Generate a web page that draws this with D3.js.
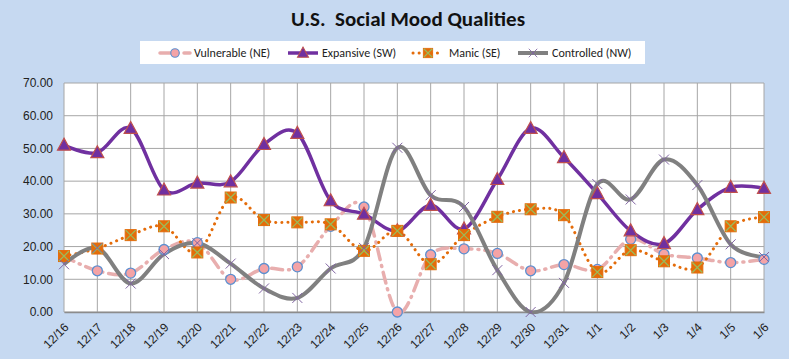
<!DOCTYPE html>
<html>
<head>
<meta charset="utf-8">
<script src="https://cdn.jsdelivr.net/npm/d3@7"></script>
<style>
  html, body { margin: 0; padding: 0; background: #c6d9f1; }
  svg { display: block; font-family: Carlito, "Liberation Sans", Arial, sans-serif; }
  .tick text { fill: #222; font-size: 12px; }
</style>
</head>
<body>
<div id="chart"></div>
<script>
// Social mood data
var dates = ['12/16','12/17','12/18','12/19','12/20','12/21','12/22','12/23','12/24','12/25','12/26',
  '12/27','12/28','12/29','12/30','12/31','1/1','1/2','1/3','1/4','1/5','1/6'];
var vulnerable = [17.0,12.6,11.9,19.1,21.2,10.0,13.3,13.8,26.2,32.1,0.0,17.5,19.3,17.9,12.6,14.5,13.0,22.2,17.7,16.5,15.1,16.1];
var expansive  = [51.0,48.7,56.1,37.3,39.4,39.8,51.2,54.6,34.0,29.9,24.8,32.6,25.4,40.5,56.1,47.2,36.2,24.8,20.9,31.3,38.1,37.8];
var manic      = [17.1,19.4,23.5,26.2,18.2,35.0,28.1,27.4,26.8,18.7,24.8,14.6,23.5,29.1,31.4,29.6,12.2,18.9,15.5,13.6,26.2,29.0];
var controlled = [14.6,19.6,8.7,17.7,21.1,14.8,7.2,4.3,13.3,19.6,50.2,35.7,32.1,12.8,0.0,8.9,39.1,34.4,46.6,38.8,20.7,16.8];
var yTicks = [0,10,20,30,40,50,60,70];

var W = 789, H = 359;
var margin = {top: 83, right: 25, bottom: 47, left: 64};
var w = W - margin.left - margin.right;
var h = H - margin.top - margin.bottom;

var svg = d3.select('#chart').append('svg').attr('width', W).attr('height', H);

svg.append('text')
  .attr('x', 408).attr('y', 26)
  .attr('text-anchor', 'middle')
  .attr('font-weight', 'bold').attr('font-size', 21)
  .attr('fill', '#111')
  .style('white-space', 'pre')
  .text('U.S.  Social Mood Qualities');

var g = svg.append('g').attr('transform', 'translate(' + margin.left + ',' + margin.top + ')');

var x = d3.scalePoint().domain(dates).range([0, w]);
var y = d3.scaleLinear().domain([0, 70]).range([h, 0]);

g.append('rect').attr('width', w).attr('height', h).attr('fill', '#fff');

// gridlines
g.append('g').selectAll('line.hg').data(yTicks).join('line')
  .attr('x1', 0).attr('x2', w)
  .attr('y1', function(d) { return y(d); }).attr('y2', function(d) { return y(d); })
  .attr('stroke', '#a6a6a6').attr('stroke-width', 1);
g.append('g').selectAll('line.vg').data(dates).join('line')
  .attr('x1', function(d) { return x(d); }).attr('x2', function(d) { return x(d); })
  .attr('y1', 0).attr('y2', h)
  .attr('stroke', '#a6a6a6').attr('stroke-width', 1);

// axes
var yAxis = g.append('g')
  .call(d3.axisLeft(y).tickValues(yTicks).tickFormat(d3.format('.2f')).tickSize(0).tickPadding(11));
yAxis.select('.domain').remove();

var xAxis = g.append('g').attr('transform', 'translate(0,' + h + ')')
  .call(d3.axisBottom(x).tickSize(0).tickPadding(0));
xAxis.select('.domain').attr('stroke', '#8c8c8c').attr('stroke-width', 1.5);
xAxis.selectAll('text')
  .attr('text-anchor', 'end')
  .attr('dy', 0)
  .attr('transform', 'translate(5,16) rotate(-45)');

var clip = g.append('clipPath').attr('id', 'clip')
  .append('rect').attr('x', -10).attr('y', -10).attr('width', w + 20).attr('height', h + 16);

var line = d3.line().curve(d3.curveCardinal.tension(0))
  .x(function(d, i) { return x(dates[i]); })
  .y(function(d) { return y(d); });

var plot = g.append('g').attr('clip-path', 'url(#clip)');

// marker painters
function circleMarker(sel) {
  sel.append('circle').attr('r', 5).attr('fill', '#f4a3a6').attr('stroke', '#5b8fd0').attr('stroke-width', 1.3);
}
function triMarker(sel) {
  sel.append('path').attr('d', 'M0,-7L6.5,5L-6.5,5Z')
    .attr('fill', '#7030a0').attr('stroke', '#c0504d').attr('stroke-width', 1.2);
}
function squareMarker(sel) {
  sel.append('rect').attr('x', -5.5).attr('y', -5.5).attr('width', 11).attr('height', 11)
    .attr('fill', '#e46c0a').attr('stroke', '#e46c0a');
  sel.append('path').attr('d', 'M-5,-5L5,5M5,-5L-5,5').attr('stroke', '#9bbb59').attr('stroke-width', 1.3);
}
function xMarker(sel) {
  sel.append('path').attr('d', 'M-5,-5L5,5M5,-5L-5,5').attr('stroke', '#8064a2').attr('stroke-width', 1);
}

var series = [
  {name: 'Vulnerable (NE)', values: vulnerable, color: '#e8aeae', width: 3.5, dash: '11,6,1,6', cap: 'round', marker: circleMarker},
  {name: 'Expansive (SW)', values: expansive, color: '#7030a0', width: 3.5, dash: null, cap: 'butt', marker: triMarker},
  {name: 'Manic (SE)', values: manic, color: '#e46c0a', width: 3, dash: '0.1,6', cap: 'round', marker: squareMarker},
  {name: 'Controlled (NW)', values: controlled, color: '#808080', width: 4, dash: null, cap: 'butt', marker: xMarker}
];

series.forEach(function(s) {
  plot.append('path').datum(s.values)
    .attr('d', line)
    .attr('fill', 'none')
    .attr('stroke', s.color)
    .attr('stroke-width', s.width)
    .attr('stroke-linecap', s.cap)
    .attr('stroke-dasharray', s.dash);
  g.append('g').selectAll('g').data(s.values).join('g')
    .attr('transform', function(d, i) { return 'translate(' + x(dates[i]) + ',' + y(d) + ')'; })
    .each(function() { s.marker(d3.select(this)); });
});

// legend
var legend = svg.append('g');
legend.append('rect').attr('x', 140).attr('y', 41).attr('width', 505).attr('height', 23).attr('fill', '#fff');
var legX = [160, 288, 413, 518];
series.forEach(function(s, i) {
  var it = legend.append('g').attr('transform', 'translate(' + legX[i] + ',53)');
  it.append('line').attr('x1', 0).attr('x2', 30)
    .attr('stroke', s.color).attr('stroke-width', s.width)
    .attr('stroke-linecap', s.cap).attr('stroke-dasharray', s.dash);
  var m = it.append('g').attr('transform', 'translate(15,0) scale(0.85)');
  s.marker(m);
  it.append('text').attr('x', i === 2 ? 36 : 34).attr('y', 4)
    .attr('font-size', 12).attr('fill', '#222').text(s.name);
});
</script>
</body>
</html>
